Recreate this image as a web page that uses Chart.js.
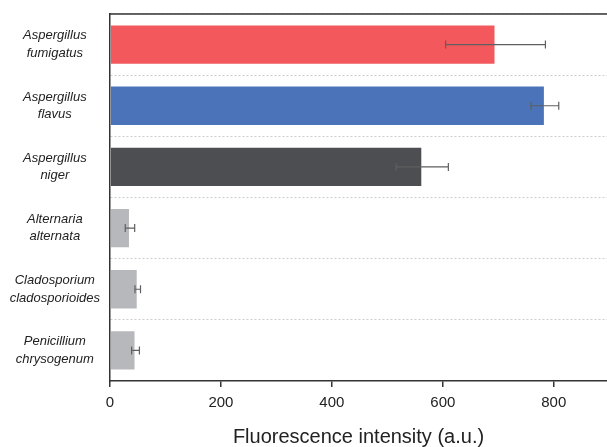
<!DOCTYPE html>
<html>
<head>
<meta charset="utf-8">
<script src="https://cdn.jsdelivr.net/npm/chart.js@4/dist/chart.umd.min.js"></script>
<style>
  html, body { margin: 0; padding: 0; background: #fff; overflow: hidden; }
  #wrap { width: 607px; height: 447px; }
</style>
</head>
<body>
<div id="wrap"><canvas id="fluoChart"></canvas></div>
<script>
// data
var species = [
  ["Aspergillus", "fumigatus"],
  ["Aspergillus", "flavus"],
  ["Aspergillus", "niger"],
  ["Alternaria", "alternata"],
  ["Cladosporium", "cladosporioides"],
  ["Penicillium", "chrysogenum"]
];
var intensity = [695, 784, 563, 36, 50, 46];
var errors = [90, 25, 47, 8.5, 5, 7];
var barColors = ["#f2585c", "#4a73b9", "#4d4e52", "#b7b8bb", "#b7b8bb", "#b7b8bb"];
var xTicks = [0, 200, 400, 600, 800];

// error bars + dark top frame line
var errorBarPlugin = {
  id: "errorBars",
  afterDatasetsDraw: function (chart) {
    var ctx = chart.ctx;
    var xs = chart.scales.x;
    var ys = chart.scales.y;
    ctx.save();
    ctx.strokeStyle = "#5f5f5f";
    ctx.lineWidth = 1.2;
    for (var i = 0; i < intensity.length; i++) {
      var y = ys.getPixelForValue(i);
      var x1 = xs.getPixelForValue(intensity[i] - errors[i]);
      var x2 = xs.getPixelForValue(intensity[i] + errors[i]);
      ctx.beginPath();
      ctx.moveTo(x1, y); ctx.lineTo(x2, y);
      ctx.moveTo(x1, y - 4); ctx.lineTo(x1, y + 4);
      ctx.moveTo(x2, y - 4); ctx.lineTo(x2, y + 4);
      ctx.stroke();
    }
    var a = chart.chartArea;
    ctx.strokeStyle = "#333";
    ctx.lineWidth = 1.5;
    ctx.beginPath();
    ctx.moveTo(a.left, a.top);
    ctx.lineTo(a.right, a.top);
    ctx.stroke();
    ctx.restore();
  }
};

new Chart("fluoChart", {
  type: "bar",
  data: {
    labels: species,
    datasets: [{
      data: intensity,
      backgroundColor: barColors,
      borderColor: "rgba(255,255,255,0.5)",
      borderWidth: 1,
      barPercentage: 0.66,
      categoryPercentage: 1
    }]
  },
  plugins: [errorBarPlugin],
  options: {
    indexAxis: "y",
    responsive: true,
    maintainAspectRatio: false,
    animation: false,
    layout: { padding: { top: 14, right: 0, left: 0, bottom: 0 } },
    plugins: {
      legend: { display: false },
      tooltip: { enabled: false }
    },
    scales: {
      x: {
        min: 0,
        max: 896,
        afterBuildTicks: function (scale) {
          scale.ticks = xTicks.map(function (v) { return { value: v }; });
        },
        ticks: {
          color: "#222",
          font: { family: "Liberation Sans, Arial, sans-serif", size: 15 },
          padding: 7,
          maxRotation: 0
        },
        grid: {
          drawOnChartArea: false,
          drawTicks: true,
          tickLength: 6,
          color: "#333",
          lineWidth: 1.5
        },
        border: { display: true, color: "#333", width: 1.5 },
        title: {
          display: true,
          text: "Fluorescence intensity (a.u.)",
          color: "#222",
          font: { family: "Liberation Sans, Arial, sans-serif", size: 20 },
          padding: { top: 10, bottom: -2 }
        },
        afterFit: function (scale) { scale.height = 66; }
      },
      y: {
        offset: true,
        ticks: {
          color: "#222",
          crossAlign: "center",
          padding: 10,
          font: { family: "Liberation Sans, Arial, sans-serif", size: 13, style: "italic", lineHeight: 1.35 }
        },
        grid: {
          offset: true,
          drawTicks: false,
          color: "#cccccc",
          lineWidth: 1
        },
        border: { display: true, color: "#333", width: 1.5, dash: [2, 2] },
        afterFit: function (scale) {
          scale.width = 110;
          scale.paddingTop = 0;
          scale.paddingBottom = 0;
        }
      }
    }
  }
});
</script>
</body>
</html>
